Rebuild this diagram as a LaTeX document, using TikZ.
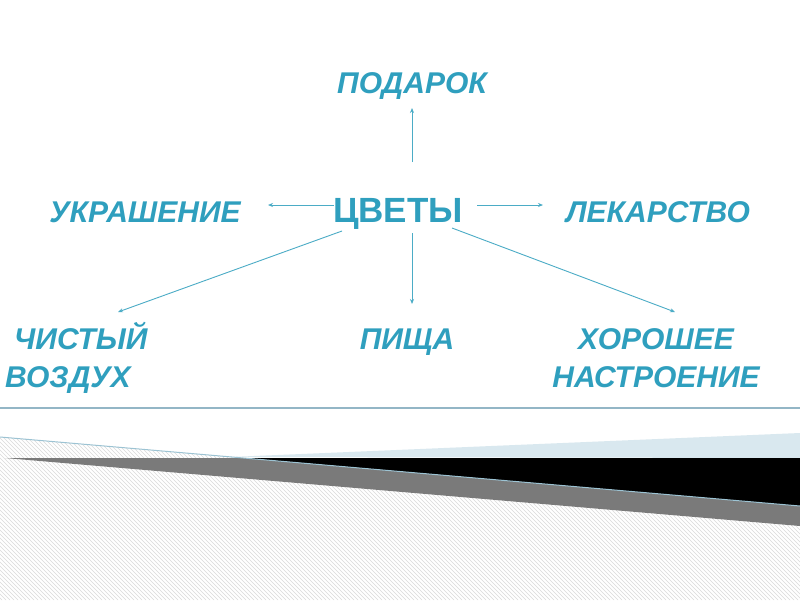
\documentclass[tikz,border=0pt]{standalone}
\usepackage{fontspec}
\setmainfont{Liberation Sans}
\usetikzlibrary{arrows.meta}
\definecolor{txt}{HTML}{2F9FBE}
\definecolor{arr}{HTML}{4BACC6}
\definecolor{rule}{HTML}{93B6C6}
\definecolor{lblue}{HTML}{D9E8EF}
\definecolor{edge}{HTML}{9CC3D3}
\definecolor{shadow}{HTML}{7A7A7A}
\definecolor{hatch}{HTML}{DADADA}
\tikzset{
  lbl/.style={text=txt,inner sep=0pt,font=\fontsize{30}{38}\selectfont\bfseries\itshape},
  hub/.style={text=txt,inner sep=0pt,font=\fontsize{35}{40}\selectfont\bfseries},
  conn/.style={draw=arr,line width=0.9pt,-{Stealth[length=5pt,width=4pt]}}
}
\begin{document}
\begin{tikzpicture}[x=1pt,y=-1pt]
\useasboundingbox (0,0) rectangle (800,600);
\fill[white] (0,0) rectangle (800,600);
% bottom decoration
\begin{scope}
\clip (0,437) -- (800,506) -- (800,600) -- (0,600) -- cycle;
\fill[white] (0,430) rectangle (800,600);
\foreach \i in {-200,-196,...,800} {
  \draw[hatch,line width=0.5pt] (\i,430) -- (\i+170,600);
}
\end{scope}
\fill[shadow] (5,458) -- (245,458) -- (800,506) -- (800,526) -- cycle;
\fill[lblue] (230,457) -- (800,433) -- (800,458) -- cycle;
\fill[black] (245,458) -- (800,458) -- (800,506) -- cycle;
\draw[edge,line width=1pt] (0,437) -- (800,506);
\draw[rule,line width=1.5pt] (0,408) -- (800,408);
% labels
\node[lbl,anchor=base] (podarok) at (412,93) {ПОДАРОК};
\node[lbl,anchor=base] (ukr) at (145,222) {УКРАШЕНИЕ};
\node[hub,anchor=base] (cvety) at (398,222) {ЦВЕТЫ};
\node[lbl,anchor=base] (lek) at (658,222) {ЛЕКАРСТВО};
\node[lbl,align=left,anchor=west] (vozd) at (5,358) {\hspace{9pt}ЧИСТЫЙ\\ВОЗДУХ};
\node[lbl,anchor=base] (pischa) at (407,349) {ПИЩА};
\node[lbl,align=center] (nastr) at (656,358) {ХОРОШЕЕ\\НАСТРОЕНИЕ};
% connectors
\coordinate (uS) at (412,162); \coordinate (uE) at (412,108);
\coordinate (lS) at (334,205); \coordinate (lE) at (268,205);
\coordinate (rS) at (477,205); \coordinate (rE) at (543,205);
\coordinate (dlS) at (342,231); \coordinate (dlE) at (118,312);
\coordinate (dS) at (412,233); \coordinate (dE) at (412,304);
\coordinate (drS) at (452,228); \coordinate (drE) at (675,312);
\draw[conn] (uS) -- (uE);
\draw[conn] (lS) -- (lE);
\draw[conn] (rS) -- (rE);
\draw[conn] (dlS) -- (dlE);
\draw[conn] (dS) -- (dE);
\draw[conn] (drS) -- (drE);
\end{tikzpicture}
\end{document}
